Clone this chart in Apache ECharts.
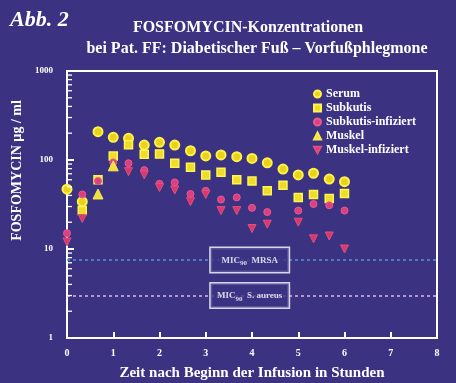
<!DOCTYPE html>
<html><head><meta charset="utf-8">
<script src="https://cdn.jsdelivr.net/npm/echarts@6/dist/echarts.min.js"></script>
<style>html,body{margin:0;padding:0;background:#3b3282}#c{width:456px;height:383px}</style>
</head><body><div id="c"></div>
<script>
// ---- data ----
const hours = [0, 0.33, 0.67, 1, 1.33, 1.67, 2, 2.33, 2.67, 3, 3.33, 3.67, 4, 4.33, 4.67, 5, 5.33, 5.67, 6];
const serum = [47, 34, 208, 180, 175, 147, 158, 147, 127, 111, 114, 109, 104, 93, 79, 68, 71, 61, 57];
const subkutis = [null, 27, 60, 111, 148, 116, 117, 92, 83, 68, 73, 60, 58, 45, 52, 38, 41, 37, 42];
const subkutisInfiziert = [15, 41, 58, 94, 92, 77, 54, 56, 41.5, 45, 36, 38, 29, 26, null, 27, 32, 31, 27];
const muskel = [null, null, 41.5, 86, null, null, null, null, null, null, null, null, null, null, null, null, null, null, null];
const muskelInfiziert = [12, 22, null, null, 74, 68, 49, 46, 34, 41, 27, 27, 17, 19, null, 20, 13, 14, 10];
const seriesNames = ['Serum', 'Subkutis', 'Subkutis-infiziert', 'Muskel', 'Muskel-infiziert'];
const yTickLabels = ['1', '10', '100', '1000'];
const xTickLabels = ['0', '1', '2', '3', '4', '5', '6', '7', '8'];
const micLevels = [7.5, 3];
const micNames = ['MRSA', 'S. aureus'];
const micLabelHour = 3.95;
const minorTickValues = [2, 3, 4, 5, 6, 7, 8, 9, 20, 30, 40, 50, 60, 70, 80, 90, 200, 300, 400, 500, 600, 700, 800, 900];

const pairs = arr => hours.map((h, i) => [h, arr[i]]).filter(p => p[1] != null);
const SERIF = '"Liberation Serif", "DejaVu Serif", serif';
const downTri = 'path://M0,0 L10,0 L5,9 Z';
const BG = '#3b3282';
const TICK = '#ffffff';

const chart = echarts.init(document.getElementById('c'));
const markerStyle = {
  Serum: {symbol: 'circle', size: 9, color: '#e9d21e', border: '#fff24a', bw: 2},
  Subkutis: {symbol: 'rect', size: 8, color: '#eedc2a', border: '#fff450', bw: 1.5},
  'Subkutis-infiziert': {symbol: 'circle', size: 7, color: '#dc3f80', border: '#e65a92', bw: 1},
  Muskel: {symbol: 'triangle', size: 10, color: '#f0e03c', border: '#f7ec50', bw: 1},
  'Muskel-infiziert': {symbol: downTri, size: 8, color: '#d8386c', border: '#e0507c', bw: 1}
};
const dataByName = {
  Serum: serum, Subkutis: subkutis, 'Subkutis-infiziert': subkutisInfiziert,
  Muskel: muskel, 'Muskel-infiziert': muskelInfiziert
};

const scatterSeries = seriesNames.map(n => ({
  name: n, type: 'scatter', data: pairs(dataByName[n]),
  symbol: markerStyle[n].symbol, symbolSize: markerStyle[n].size,
  itemStyle: {color: markerStyle[n].color, borderColor: markerStyle[n].border, borderWidth: markerStyle[n].bw, opacity: 1},
  z: 5
}));

const micLineSeries = {
  name: 'mic', type: 'line', data: [], silent: true,
  markLine: {
    symbol: 'none', silent: true, label: {show: false},
    data: [
      [{coord: [0, micLevels[0]], lineStyle: {color: '#4f95dc', type: [3, 3], width: 1.6}}, {coord: [8, micLevels[0]]}],
      [{coord: [0, micLevels[1]], lineStyle: {color: '#e2b4e6', type: [3, 3], width: 1.6}}, {coord: [8, micLevels[1]]}]
    ]
  }
};

const micLabelSeries = {
  name: 'miclabel', type: 'scatter', symbolSize: 0, silent: true, z: 10,
  data: micLevels.map((v, i) => ({value: [micLabelHour, v], micName: micNames[i]})),
  label: {
    show: true, position: 'inside',
    formatter: p => '{a|MIC}{s|90}{a|  ' + p.data.micName + '}',
    backgroundColor: BG, borderColor: '#ffffff', borderWidth: 1.5,
    width: 66, align: 'center', padding: [6, 6, 5, 6],
    rich: {
      a: {color: '#fff', fontFamily: SERIF, fontWeight: 'bold', fontSize: 9},
      s: {color: '#fff', fontFamily: SERIF, fontWeight: 'bold', fontSize: 7, padding: [6, 0, 0, 0]}
    }
  }
};

const minorTickSeries = {
  name: 'minor', type: 'custom', silent: true, z: 20,
  data: minorTickValues.map(v => [0, v]),
  renderItem: (params, api) => {
    const p = api.coord([api.value(0), api.value(1)]);
    return {type: 'line', shape: {x1: p[0], y1: p[1], x2: p[0] + 5, y2: p[1]}, style: {stroke: TICK, lineWidth: 1.3}};
  }
};

chart.setOption({
  backgroundColor: BG,
  animation: false,
  title: [
    {text: 'Abb. 2', left: 5, top: 4, textStyle: {color: '#fff', fontFamily: SERIF, fontStyle: 'italic', fontWeight: 'bold', fontSize: 22}},
    {text: 'FOSFOMYCIN-Konzentrationen', left: 243, top: 15, textAlign: 'center', textStyle: {color: '#fff', fontFamily: SERIF, fontWeight: 'bold', fontSize: 16}},
    {text: 'bei Pat. FF: Diabetischer Fuß – Vorfußphlegmone', left: 252, top: 36, textAlign: 'center', textStyle: {color: '#fff', fontFamily: SERIF, fontWeight: 'bold', fontSize: 16}}
  ],
  legend: {
    orient: 'vertical', left: 308, top: 83, itemWidth: 7, itemHeight: 7, itemGap: 2,
    data: seriesNames.map(n => ({name: n, icon: markerStyle[n].symbol})),
    textStyle: {color: '#fff', fontFamily: SERIF, fontWeight: 'bold', fontSize: 12},
    selectedMode: false
  },
  grid: {left: 67, top: 71, right: 19, bottom: 45, show: true, borderColor: '#ffffff', borderWidth: 2, outerBoundsMode: 'none'},
  xAxis: {
    type: 'value', min: 0, max: 8, interval: 1,
    name: 'Zeit nach Beginn der Infusion in Stunden', nameLocation: 'middle', nameGap: 28,
    nameTextStyle: {color: '#fff', fontFamily: SERIF, fontWeight: 'bold', fontSize: 15},
    axisLine: {lineStyle: {color: '#fff', width: 2}},
    axisTick: {show: true, inside: true, length: 6, lineStyle: {color: TICK, width: 2}},
    axisLabel: {color: '#fff', fontFamily: SERIF, fontWeight: 'bold', fontSize: 10, margin: 10, formatter: v => xTickLabels[Math.round(v)]},
    splitLine: {show: false}
  },
  yAxis: {
    type: 'log', logBase: 10, min: 1, max: 1000,
    name: 'FOSFOMYCIN µg / ml', nameLocation: 'middle', nameGap: 40, nameRotate: 90,
    nameTextStyle: {color: '#fff', fontFamily: SERIF, fontWeight: 'bold', fontSize: 14, padding: [0, 0, 0, 68]},
    axisLine: {lineStyle: {color: '#fff', width: 2}},
    axisTick: {show: true, inside: true, length: 7, lineStyle: {color: TICK, width: 2}},
    axisLabel: {color: '#fff', fontFamily: SERIF, fontWeight: 'bold', fontSize: 9, margin: 14, formatter: v => yTickLabels[Math.round(Math.log10(v))]},
    splitLine: {show: false}
  },
  series: [micLineSeries, minorTickSeries, ...scatterSeries, micLabelSeries]
});
</script>
</body></html>
